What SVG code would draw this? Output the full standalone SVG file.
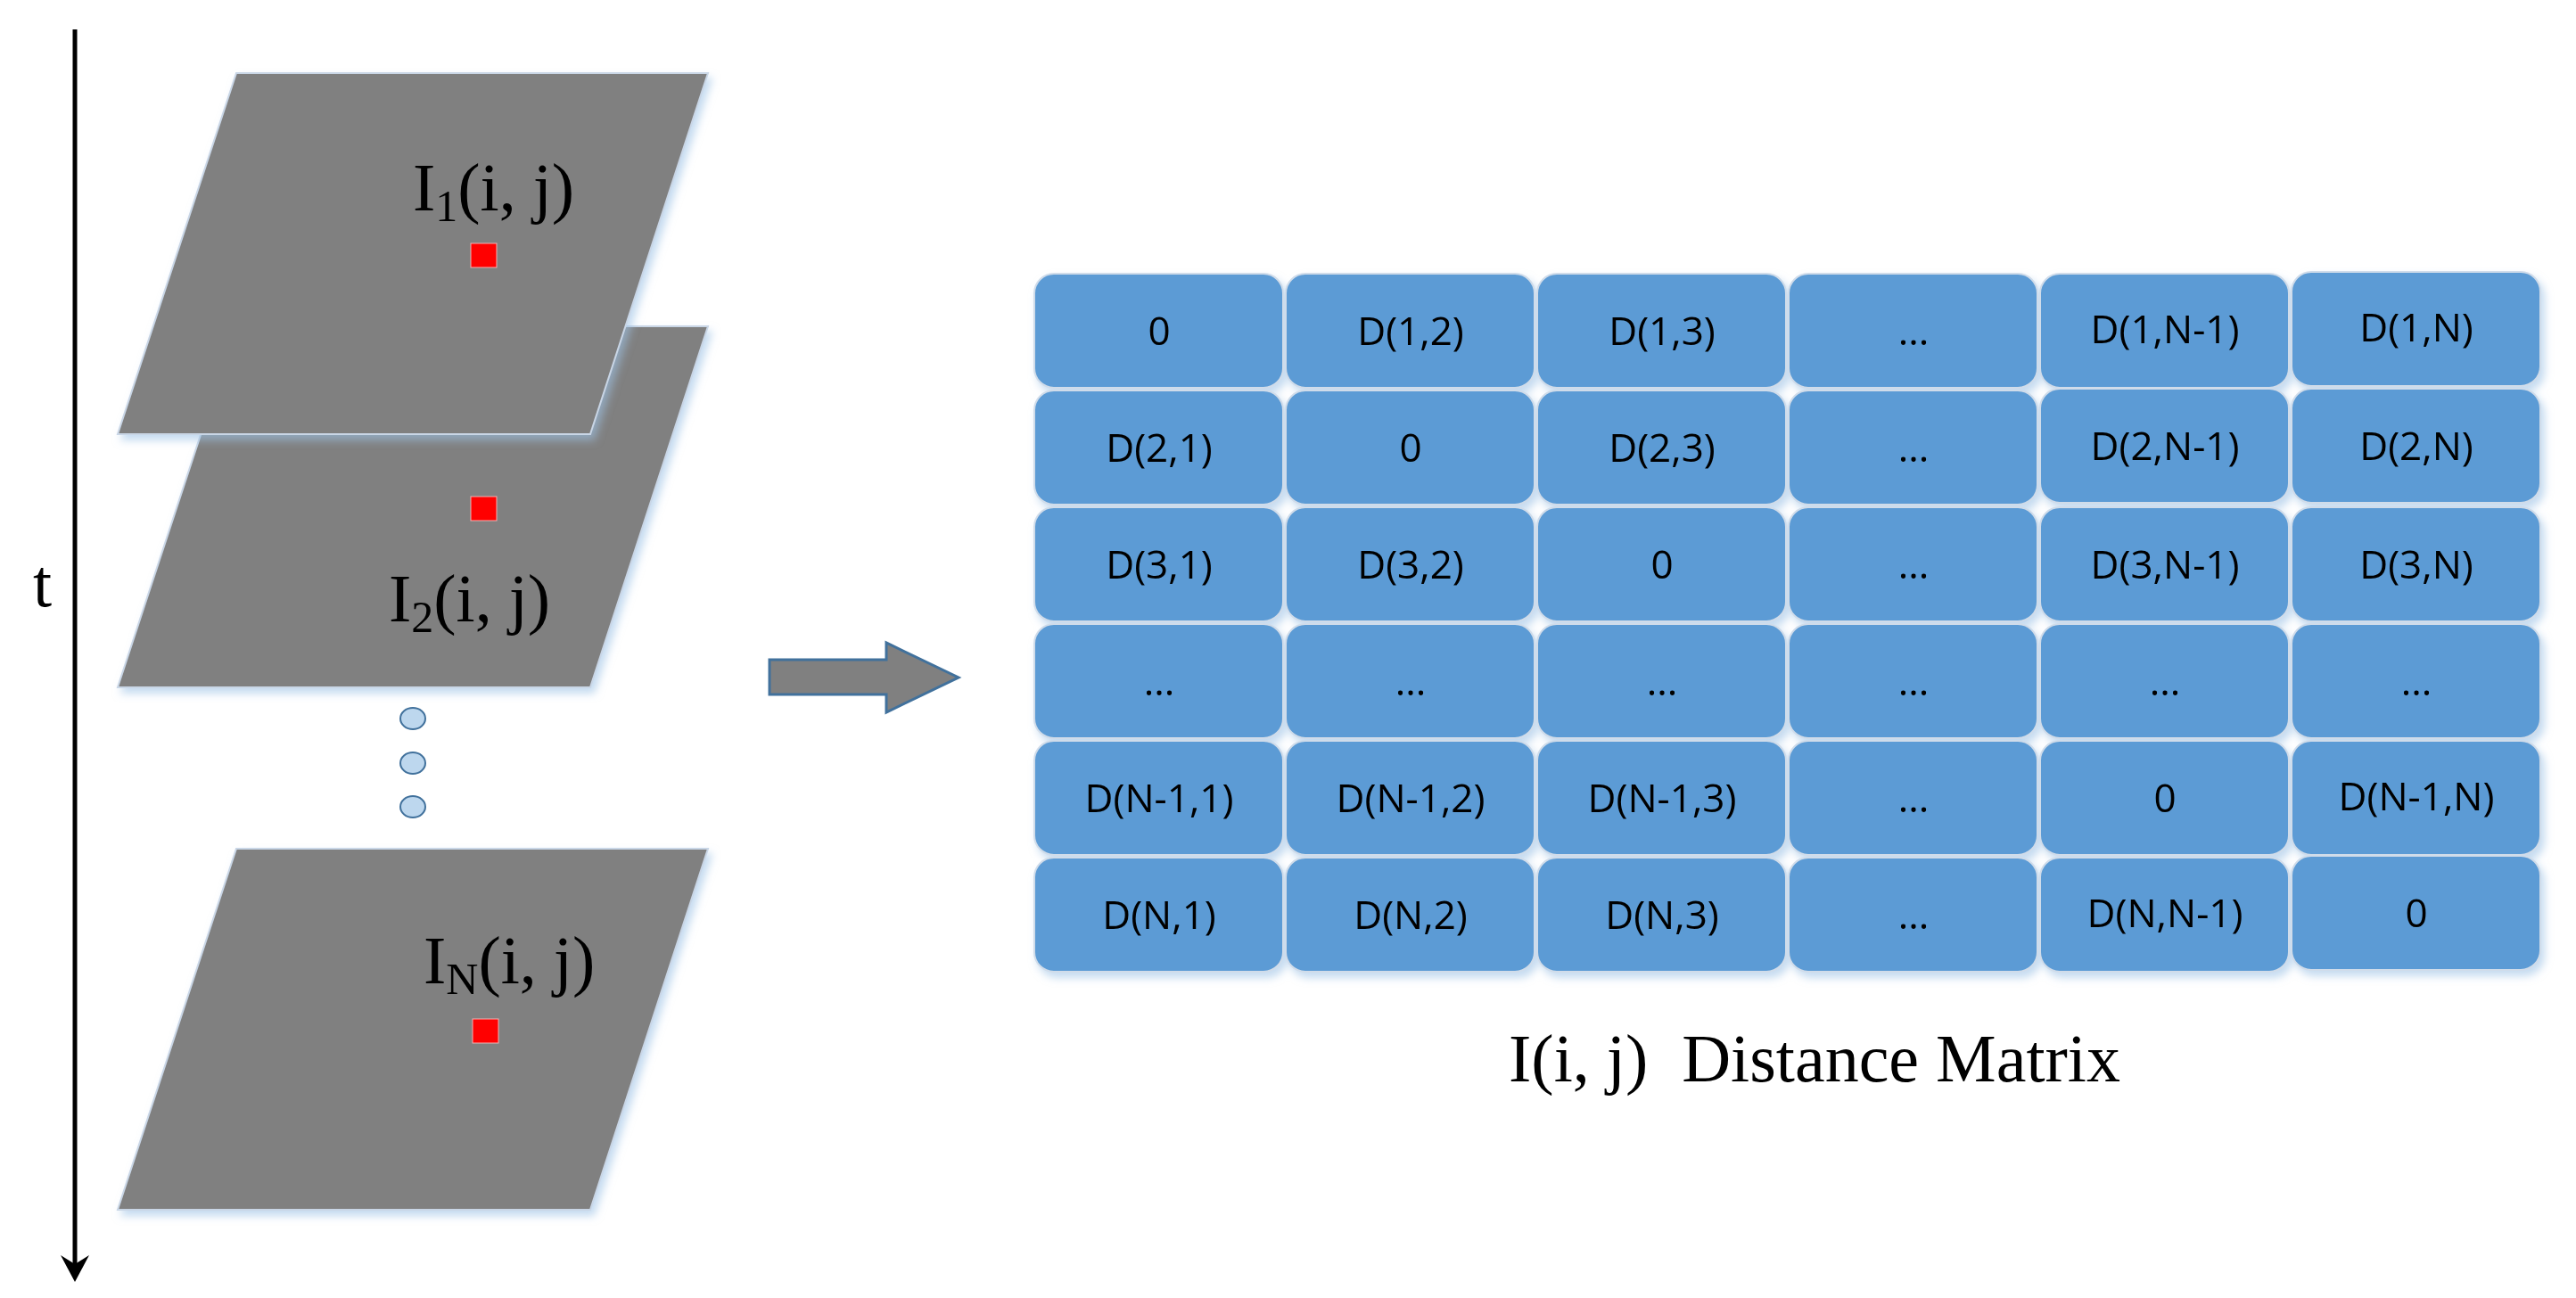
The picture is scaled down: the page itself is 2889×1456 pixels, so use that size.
<svg xmlns="http://www.w3.org/2000/svg" width="2889" height="1456" viewBox="0 0 2889 1456">
<style>
.plane{fill:#808080;stroke:#c9d6e6;stroke-width:2}
.red{fill:#ff0000;stroke:#f4b0b0;stroke-width:1}
.lbl{font-family:"Liberation Serif",serif;font-size:76px;fill:#000}
.cell{fill:#5b9bd5;stroke:#d0dcea;stroke-width:2}
.ct{font-family:"Open Sans",sans-serif;font-size:44px;fill:#000;text-anchor:middle}
.dot{fill:#bdd7ee;stroke:#41719c;stroke-width:2}
</style>
<defs>
<filter id="sh" x="-10%" y="-10%" width="130%" height="130%">
<feDropShadow dx="4" dy="6" stdDeviation="5" flood-color="#9dc3e6" flood-opacity="0.6"/>
</filter>
<marker id="ah" markerWidth="12" markerHeight="12" refX="6" refY="6" orient="auto" markerUnits="userSpaceOnUse" viewBox="0 0 12 12">
<path d="M0,0 L12,6 L0,12 L4,6 Z" fill="#000"/>
</marker>
</defs>
<rect width="2889" height="1456" fill="#fff"/>
<g id="connectors">
<line x1="84" y1="33" x2="84" y2="1428" stroke="#000" stroke-width="5"/>
<path d="M68,1408 L84,1438 L100,1408 L84,1418 Z" fill="#000"/>
<path d="M863,740 L994,740 L994,721 L1075,760 L994,799 L994,779 L863,779 Z" fill="#808080" stroke="#41719c" stroke-width="3"/>
</g>
<text x="37" y="680" class="lbl" font-size="60">t</text>
<g id="plane2">
<polygon class="plane" filter="url(#sh)" points="265,366 794,366 662,771 132,771"/>
<rect class="red" x="528" y="557" width="29" height="27"/>
<text class="lbl" x="436" y="697">I<tspan font-size="50" dy="12">2</tspan><tspan dy="-12">(i, j)</tspan></text>
</g>
<g id="plane1">
<polygon class="plane" filter="url(#sh)" points="265,82 794,82 662,487 132,487"/>
<rect class="red" x="528" y="273" width="29" height="27"/>
<text class="lbl" x="463" y="236">I<tspan font-size="50" dy="12">1</tspan><tspan dy="-12">(i, j)</tspan></text>
</g>
<g id="dots">
<ellipse class="dot" cx="463" cy="806" rx="14" ry="12"/>
<ellipse class="dot" cx="463" cy="856" rx="14" ry="12"/>
<ellipse class="dot" cx="463" cy="905" rx="14" ry="12"/>
</g>
<g id="planeN">
<polygon class="plane" filter="url(#sh)" points="265,952 794,952 662,1357 132,1357"/>
<rect class="red" x="530" y="1143" width="29" height="27"/>
<text class="lbl" x="475" y="1103">I<tspan font-size="50" dy="12">N</tspan><tspan dy="-12">(i, j)</tspan></text>
</g>
<g id="matrix" filter="url(#sh)">
<g id="r1">
<rect class="cell" x="1160" y="307" width="279" height="128" rx="22"/><text class="ct" x="1300" y="387">0</text>
<rect class="cell" x="1442" y="307" width="279" height="128" rx="22"/><text class="ct" x="1582" y="387">D(1,2)</text>
<rect class="cell" x="1724" y="307" width="279" height="128" rx="22"/><text class="ct" x="1864" y="387">D(1,3)</text>
<rect class="cell" x="2006" y="307" width="279" height="128" rx="22"/><text class="ct" x="2146" y="387">...</text>
<rect class="cell" x="2288" y="307" width="279" height="128" rx="22"/><text class="ct" x="2428" y="385">D(1,N-1)</text>
<rect class="cell" x="2570" y="305" width="279" height="128" rx="22"/><text class="ct" x="2710" y="383">D(1,N)</text>
</g>
<g id="r2">
<rect class="cell" x="1160" y="438" width="279" height="128" rx="22"/><text class="ct" x="1300" y="518">D(2,1)</text>
<rect class="cell" x="1442" y="438" width="279" height="128" rx="22"/><text class="ct" x="1582" y="518">0</text>
<rect class="cell" x="1724" y="438" width="279" height="128" rx="22"/><text class="ct" x="1864" y="518">D(2,3)</text>
<rect class="cell" x="2006" y="438" width="279" height="128" rx="22"/><text class="ct" x="2146" y="518">...</text>
<rect class="cell" x="2288" y="436" width="279" height="128" rx="22"/><text class="ct" x="2428" y="516">D(2,N-1)</text>
<rect class="cell" x="2570" y="436" width="279" height="128" rx="22"/><text class="ct" x="2710" y="516">D(2,N)</text>
</g>
<g id="r3">
<rect class="cell" x="1160" y="569" width="279" height="128" rx="22"/><text class="ct" x="1300" y="649">D(3,1)</text>
<rect class="cell" x="1442" y="569" width="279" height="128" rx="22"/><text class="ct" x="1582" y="649">D(3,2)</text>
<rect class="cell" x="1724" y="569" width="279" height="128" rx="22"/><text class="ct" x="1864" y="649">0</text>
<rect class="cell" x="2006" y="569" width="279" height="128" rx="22"/><text class="ct" x="2146" y="649">...</text>
<rect class="cell" x="2288" y="569" width="279" height="128" rx="22"/><text class="ct" x="2428" y="649">D(3,N-1)</text>
<rect class="cell" x="2570" y="569" width="279" height="128" rx="22"/><text class="ct" x="2710" y="649">D(3,N)</text>
</g>
<g id="r4">
<rect class="cell" x="1160" y="700" width="279" height="128" rx="22"/><text class="ct" x="1300" y="780">...</text>
<rect class="cell" x="1442" y="700" width="279" height="128" rx="22"/><text class="ct" x="1582" y="780">...</text>
<rect class="cell" x="1724" y="700" width="279" height="128" rx="22"/><text class="ct" x="1864" y="780">...</text>
<rect class="cell" x="2006" y="700" width="279" height="128" rx="22"/><text class="ct" x="2146" y="780">...</text>
<rect class="cell" x="2288" y="700" width="279" height="128" rx="22"/><text class="ct" x="2428" y="780">...</text>
<rect class="cell" x="2570" y="700" width="279" height="128" rx="22"/><text class="ct" x="2710" y="780">...</text>
</g>
<g id="r5">
<rect class="cell" x="1160" y="831" width="279" height="128" rx="22"/><text class="ct" x="1300" y="911">D(N-1,1)</text>
<rect class="cell" x="1442" y="831" width="279" height="128" rx="22"/><text class="ct" x="1582" y="911">D(N-1,2)</text>
<rect class="cell" x="1724" y="831" width="279" height="128" rx="22"/><text class="ct" x="1864" y="911">D(N-1,3)</text>
<rect class="cell" x="2006" y="831" width="279" height="128" rx="22"/><text class="ct" x="2146" y="911">...</text>
<rect class="cell" x="2288" y="831" width="279" height="128" rx="22"/><text class="ct" x="2428" y="911">0</text>
<rect class="cell" x="2570" y="831" width="279" height="128" rx="22"/><text class="ct" x="2710" y="909" font-size="39">D(N-1,N)</text>
</g>
<g id="r6">
<rect class="cell" x="1160" y="962" width="279" height="128" rx="22"/><text class="ct" x="1300" y="1042">D(N,1)</text>
<rect class="cell" x="1442" y="962" width="279" height="128" rx="22"/><text class="ct" x="1582" y="1042">D(N,2)</text>
<rect class="cell" x="1724" y="962" width="279" height="128" rx="22"/><text class="ct" x="1864" y="1042">D(N,3)</text>
<rect class="cell" x="2006" y="962" width="279" height="128" rx="22"/><text class="ct" x="2146" y="1042">...</text>
<rect class="cell" x="2288" y="962" width="279" height="128" rx="22"/><text class="ct" x="2428" y="1040" font-size="39">D(N,N-1)</text>
<rect class="cell" x="2570" y="960" width="279" height="128" rx="22"/><text class="ct" x="2710" y="1040">0</text>
</g>
</g>
<text class="lbl" x="2035" y="1213" text-anchor="middle" font-size="72" xml:space="preserve">I(i, j)  Distance Matrix</text>
</svg>
